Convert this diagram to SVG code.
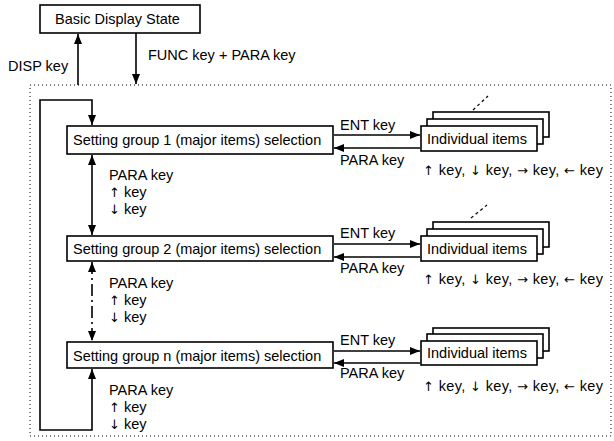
<svg xmlns="http://www.w3.org/2000/svg" width="614" height="441" viewBox="0 0 614 441">
<style>
text{font-family:"Liberation Sans",Arial,Helvetica,sans-serif;font-size:14.5px;fill:#000}
.a{font-family:"DejaVu Sans",sans-serif;font-size:13px}
.box{fill:#fff;stroke:#000;stroke-width:1.6}
.ln{fill:none;stroke:#000;stroke-width:1.6}
.frame{fill:none;stroke:#000;stroke-width:1;stroke-dasharray:1,3}
.dash{fill:none;stroke:#000;stroke-width:1.2;stroke-dasharray:3,3}
</style>
<defs>
<marker id="arr" markerUnits="userSpaceOnUse" markerWidth="11" markerHeight="8" refX="10" refY="4" orient="auto-start-reverse">
<path d="M0,0 L10,4 L0,8 z" fill="#000"/>
</marker>
</defs>
<rect class="frame" x="30" y="85" width="581" height="351"/>
<g id="basic">
<rect class="box" x="40" y="5" width="160" height="28"/>
<text x="55" y="24">Basic Display State</text>
</g>
<g id="connectors">
<line class="ln" x1="78" y1="85" x2="78" y2="34" marker-end="url(#arr)"/>
<line class="ln" x1="136" y1="33" x2="136" y2="84" marker-end="url(#arr)"/>
<path class="ln" d="M92,369 L92,430 L40,430 L40,100 L92,100 L92,125" marker-start="url(#arr)" marker-end="url(#arr)"/>
<line class="ln" x1="92" y1="155" x2="92" y2="235" marker-start="url(#arr)" marker-end="url(#arr)"/>
<line class="ln" x1="92" y1="262" x2="92" y2="341" stroke-dasharray="12,4,2,4" marker-start="url(#arr)" marker-end="url(#arr)"/>
<line class="ln" x1="334" y1="135" x2="420" y2="135" marker-end="url(#arr)"/>
<line class="ln" x1="420" y1="148" x2="334" y2="148" marker-end="url(#arr)"/>
<line class="ln" x1="334" y1="244" x2="420" y2="244" marker-end="url(#arr)"/>
<line class="ln" x1="420" y1="257" x2="334" y2="257" marker-end="url(#arr)"/>
<line class="ln" x1="334" y1="351" x2="420" y2="351" marker-end="url(#arr)"/>
<line class="ln" x1="420" y1="363" x2="334" y2="363" marker-end="url(#arr)"/>
<line class="dash" x1="473" y1="110" x2="488" y2="96"/>
<line class="dash" x1="471" y1="218" x2="487" y2="205"/>
</g>
<g id="labels">
<text x="8" y="71">DISP key</text>
<text x="148" y="60">FUNC key + PARA key</text>
<text x="109" y="180">PARA key</text>
<text x="109" y="197"><tspan class="a">↑</tspan> key</text>
<text x="109" y="214"><tspan class="a">↓</tspan> key</text>
<text x="109" y="288">PARA key</text>
<text x="109" y="305"><tspan class="a">↑</tspan> key</text>
<text x="109" y="322"><tspan class="a">↓</tspan> key</text>
<text x="109" y="395">PARA key</text>
<text x="109" y="412"><tspan class="a">↑</tspan> key</text>
<text x="109" y="429"><tspan class="a">↓</tspan> key</text>
</g>
<g id="group1">
<rect class="box" x="67" y="126" width="266" height="28"/>
<text x="73" y="145">Setting group 1 (major items) selection</text>
<text x="340" y="130">ENT key</text>
<text x="340" y="165">PARA key</text>
</g>
<g id="items1">
<rect class="box" x="433" y="112" width="116" height="25"/>
<rect class="box" x="427" y="119" width="116" height="25"/>
<rect class="box" x="421" y="126" width="116" height="25"/>
<text x="427" y="144">Individual items</text>
<text x="423" y="175" textLength="180" lengthAdjust="spacing"><tspan class="a">↑</tspan> key, <tspan class="a">↓</tspan> key, <tspan class="a">→</tspan> key, <tspan class="a">←</tspan> key</text>
</g>
<g id="group2">
<rect class="box" x="67" y="236" width="266" height="25"/>
<text x="73" y="254">Setting group 2 (major items) selection</text>
<text x="340" y="238">ENT key</text>
<text x="340" y="273">PARA key</text>
</g>
<g id="items2">
<rect class="box" x="433" y="222" width="116" height="25"/>
<rect class="box" x="427" y="229" width="116" height="25"/>
<rect class="box" x="421" y="236" width="116" height="25"/>
<text x="427" y="254">Individual items</text>
<text x="423" y="284" textLength="180" lengthAdjust="spacing"><tspan class="a">↑</tspan> key, <tspan class="a">↓</tspan> key, <tspan class="a">→</tspan> key, <tspan class="a">←</tspan> key</text>
</g>
<g id="groupn">
<rect class="box" x="67" y="342" width="266" height="26"/>
<text x="73" y="361">Setting group n (major items) selection</text>
<text x="340" y="345">ENT key</text>
<text x="340" y="378">PARA key</text>
</g>
<g id="itemsn">
<rect class="box" x="433" y="328" width="116" height="23"/>
<rect class="box" x="427" y="334" width="116" height="24"/>
<rect class="box" x="421" y="341" width="116" height="24"/>
<text x="427" y="358">Individual items</text>
<text x="423" y="391" textLength="180" lengthAdjust="spacing"><tspan class="a">↑</tspan> key, <tspan class="a">↓</tspan> key, <tspan class="a">→</tspan> key, <tspan class="a">←</tspan> key</text>
</g>
</svg>
